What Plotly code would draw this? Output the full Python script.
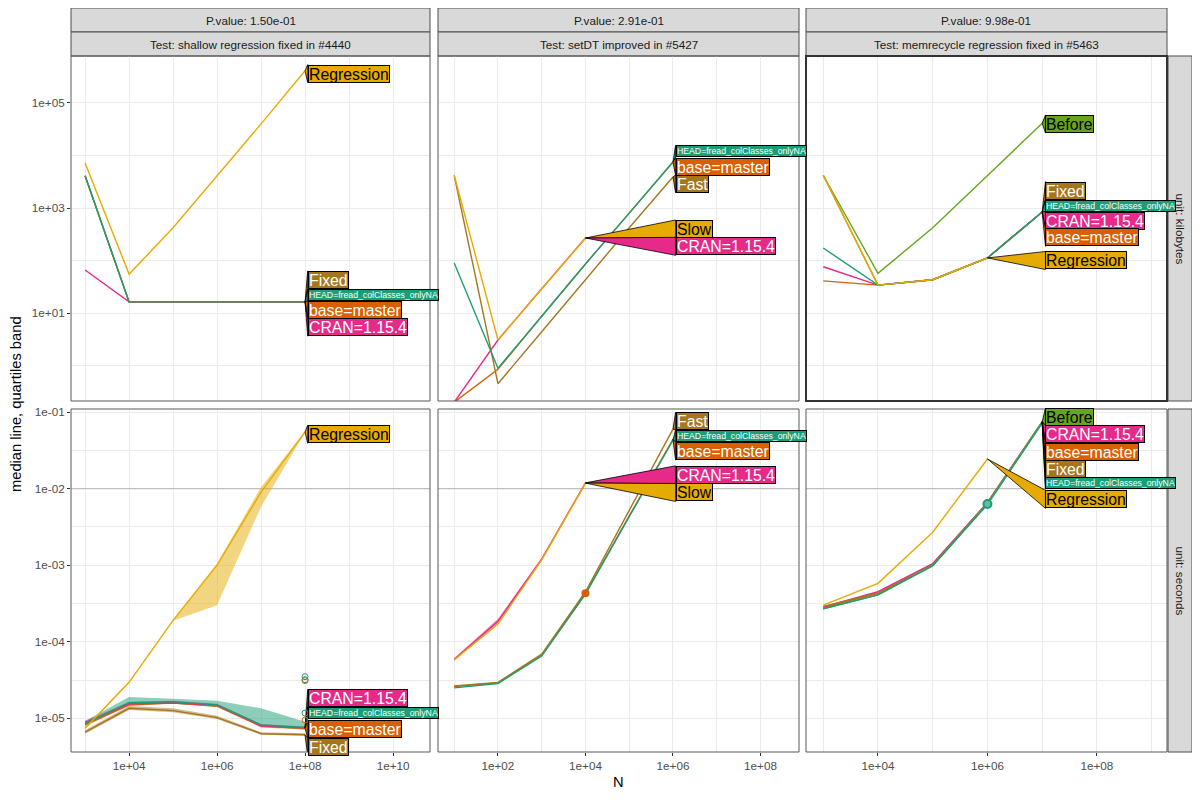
import math
import plotly.graph_objects as go

# ---------------- text ----------------
pvalue_labels = ["P.value: 1.50e-01", "P.value: 2.91e-01", "P.value: 9.98e-01"]
test_labels = ["Test: shallow regression fixed in #4440",
               "Test: setDT improved in #5427",
               "Test: memrecycle regression fixed in #5463"]
unit_labels = ["unit: kilobytes", "unit: seconds"]

HEAD = "HEAD=fread_colClasses_onlyNA"
BASE = "base=master"
CRAN = "CRAN=1.15.4"

# ---------------- column 1: shallow ----------------
shallow_N = [1e3, 1e4, 1e5, 1e6, 1e7, 1e8]
shallow_kb_Regression = [7200, 55, 420, 4000, 40000, 410000]
shallow_kb_Fixed = [4100, 16.3, 16.3, 16.3, 16.3, 16.3]
shallow_kb_base = [4100, 16.3, 16.3, 16.3, 16.3, 16.3]
shallow_kb_CRAN = [66, 16.3, 16.3, 16.3, 16.3, 16.3]
shallow_kb_HEAD = [4100, 16.3, 16.3, 16.3, 16.3, 16.3]

shallow_s_Regression = [7.4e-6, 2.95e-5, 1.9e-4, 1.0e-3, 9.0e-3, 0.055]
shallow_s_Regression_q25 = [7.2e-6, 2.9e-5, 1.88e-4, 3.0e-4, 5.8e-3, 0.054]
shallow_s_Regression_q75 = [7.6e-6, 3.0e-5, 1.92e-4, 1.05e-3, 1.05e-2, 0.056]
shallow_s_Fixed = [6.6e-6, 1.35e-5, 1.26e-5, 1.02e-5, 6.3e-6, 6.1e-6]
shallow_s_Fixed_q25 = [6.3e-6, 1.28e-5, 1.2e-5, 9.8e-6, 6.1e-6, 5.9e-6]
shallow_s_Fixed_q75 = [7.0e-6, 1.45e-5, 1.35e-5, 1.08e-5, 6.6e-6, 6.4e-6]
shallow_s_base = [8.3e-6, 1.5e-5, 1.6e-5, 1.45e-5, 7.9e-6, 7.4e-6]
shallow_s_base_q25 = [7.9e-6, 1.45e-5, 1.55e-5, 1.4e-5, 7.6e-6, 7.1e-6]
shallow_s_base_q75 = [8.7e-6, 1.6e-5, 1.65e-5, 1.5e-5, 8.3e-6, 7.7e-6]
shallow_s_CRAN = [8.8e-6, 1.55e-5, 1.6e-5, 1.5e-5, 8.0e-6, 7.5e-6]
shallow_s_CRAN_q25 = [8.4e-6, 1.5e-5, 1.55e-5, 1.45e-5, 7.7e-6, 7.3e-6]
shallow_s_CRAN_q75 = [9.3e-6, 1.65e-5, 1.7e-5, 1.55e-5, 8.4e-6, 7.8e-6]
shallow_s_HEAD = [8.5e-6, 1.6e-5, 1.65e-5, 1.5e-5, 8.2e-6, 7.6e-6]
shallow_s_HEAD_q25 = [8.0e-6, 1.5e-5, 1.55e-5, 1.4e-5, 7.8e-6, 7.2e-6]
shallow_s_HEAD_q75 = [9.2e-6, 1.9e-5, 1.8e-5, 1.7e-5, 1.35e-5, 9.0e-6]

shallow_outlier_N = [1e8, 1e8, 1e8, 1e8, 1e8]
shallow_outlier_s = [3.5e-5, 3.2e-5, 3.1e-5, 1.17e-5, 9.5e-6]
shallow_outlier_series = [HEAD, HEAD, "Fixed", HEAD, BASE]

# ---------------- column 2: setDT ----------------
setdt_N = [1e1, 1e2, 1e3, 1e4, 1e5, 1e6]
setdt_kb_Slow = [4200, 3.06, 29, 268]
setdt_kb_Fast = [4200, 0.45, 4.4, 43, 420, 3900]
setdt_kb_base = [0.2, 0.85, 8.7, 86, 800, 7500]
setdt_kb_CRAN = [0.2, 3.06, 29, 268]
setdt_kb_HEAD = [90, 0.89, 8.7, 86, 800, 7500]

setdt_s_Slow = [5.8e-5, 1.7e-4, 1.17e-3, 0.0118]
setdt_s_Fast = [2.65e-5, 2.95e-5, 6.9e-5, 4.5e-4, 5.2e-3, 0.060]
setdt_s_base = [2.6e-5, 2.9e-5, 6.7e-5, 4.3e-4, 4.4e-3, 0.044]
setdt_s_CRAN = [5.9e-5, 1.85e-4, 1.2e-3, 0.0119]
setdt_s_CRAN_q25 = [5.7e-5, 1.75e-4, 1.15e-3, 0.0117]
setdt_s_CRAN_q75 = [6.1e-5, 2.0e-4, 1.25e-3, 0.0121]
setdt_s_HEAD = [2.5e-5, 2.85e-5, 6.5e-5, 4.2e-4, 4.3e-3, 0.043]

setdt_point_N = [1e4]
setdt_point_s = [4.3e-4]

# ---------------- column 3: memrecycle ----------------
memrec_N = [1e3, 1e4, 1e5, 1e6, 1e7]
memrec_kb_Before = [4200, 57, 420, 4200, 41000]
memrec_kb_Fixed = [4200, 34, 43, 112, 840]
memrec_kb_base = [41, 34, 43, 112, 840]
memrec_kb_CRAN = [76, 34, 43, 112, 840]
memrec_kb_HEAD = [173, 34, 43, 112, 840]
memrec_kb_Regression = [4200, 34, 43, 112]

memrec_s_Before = [2.7e-4, 4.1e-4, 1.0e-3, 6.4e-3, 0.074]
memrec_s_Fixed = [2.9e-4, 4.3e-4, 1.0e-3, 6.4e-3, 0.074]
memrec_s_base = [2.8e-4, 4.3e-4, 1.0e-3, 6.5e-3, 0.074]
memrec_s_CRAN = [2.85e-4, 4.5e-4, 1.05e-3, 6.6e-3, 0.075]
memrec_s_HEAD = [2.7e-4, 4.1e-4, 0.98e-3, 6.2e-3, 0.072]
memrec_s_Regression = [3.0e-4, 5.8e-4, 2.7e-3, 0.0244]

memrec_point_N = [1e6]
memrec_point_s = [6.3e-3]

# ---------------- styles ----------------
colors = {HEAD: "#1B9E77", BASE: "#D95F02", CRAN: "#E7298A",
          "Regression": "#E6AB02", "Slow": "#E6AB02",
          "Fixed": "#A6761D", "Fast": "#A6761D", "Before": "#66A61E"}
text_colors = {"Regression": "black", "Slow": "black", "Before": "black"}

# panels: (row, col) -> list of (name, N, median, q25, q75)  (drawing order)
panels = {
    (0, 0): [(BASE, shallow_N, shallow_kb_base, None, None),
             (CRAN, shallow_N, shallow_kb_CRAN, None, None),
             ("Fixed", shallow_N, shallow_kb_Fixed, None, None),
             (HEAD, shallow_N, shallow_kb_HEAD, None, None),
             ("Regression", shallow_N, shallow_kb_Regression, None, None)],
    (0, 1): [(BASE, setdt_N, setdt_kb_base, None, None),
             (CRAN, setdt_N, setdt_kb_CRAN, None, None),
             ("Fast", setdt_N, setdt_kb_Fast, None, None),
             (HEAD, setdt_N, setdt_kb_HEAD, None, None),
             ("Slow", setdt_N, setdt_kb_Slow, None, None)],
    (0, 2): [(BASE, memrec_N, memrec_kb_base, None, None),
             (CRAN, memrec_N, memrec_kb_CRAN, None, None),
             ("Fixed", memrec_N, memrec_kb_Fixed, None, None),
             ("Before", memrec_N, memrec_kb_Before, None, None),
             (HEAD, memrec_N, memrec_kb_HEAD, None, None),
             ("Regression", memrec_N, memrec_kb_Regression, None, None)],
    (1, 0): [(BASE, shallow_N, shallow_s_base, shallow_s_base_q25, shallow_s_base_q75),
             (CRAN, shallow_N, shallow_s_CRAN, shallow_s_CRAN_q25, shallow_s_CRAN_q75),
             ("Fixed", shallow_N, shallow_s_Fixed, shallow_s_Fixed_q25, shallow_s_Fixed_q75),
             (HEAD, shallow_N, shallow_s_HEAD, shallow_s_HEAD_q25, shallow_s_HEAD_q75),
             ("Regression", shallow_N, shallow_s_Regression, shallow_s_Regression_q25, shallow_s_Regression_q75)],
    (1, 1): [(BASE, setdt_N, setdt_s_base, None, None),
             (CRAN, setdt_N, setdt_s_CRAN, setdt_s_CRAN_q25, setdt_s_CRAN_q75),
             ("Fast", setdt_N, setdt_s_Fast, None, None),
             (HEAD, setdt_N, setdt_s_HEAD, None, None),
             ("Slow", setdt_N, setdt_s_Slow, None, None)],
    (1, 2): [(BASE, memrec_N, memrec_s_base, None, None),
             (CRAN, memrec_N, memrec_s_CRAN, None, None),
             ("Fixed", memrec_N, memrec_s_Fixed, None, None),
             ("Before", memrec_N, memrec_s_Before, None, None),
             (HEAD, memrec_N, memrec_s_HEAD, None, None),
             ("Regression", memrec_N, memrec_s_Regression, None, None)],
}

# label box centres (log10 y) per panel -- layout, not data
label_y = {
    (0, 0): {"Regression": 5.56, "Fixed": 1.63, HEAD: 1.34, BASE: 1.06, CRAN: 0.73},
    (0, 1): {HEAD: 4.08, BASE: 3.79, "Fast": 3.46, "Slow": 2.60, CRAN: 2.27},
    (0, 2): {"Before": 4.60, "Fixed": 3.33, HEAD: 3.04, CRAN: 2.76, BASE: 2.44, "Regression": 2.00},
    (1, 0): {"Regression": -1.29, CRAN: -4.74, HEAD: -4.93, BASE: -5.14, "Fixed": -5.37},
    (1, 1): {"Fast": -1.12, HEAD: -1.31, BASE: -1.51, CRAN: -1.82, "Slow": -2.05},
    (1, 2): {"Before": -1.06, CRAN: -1.29, BASE: -1.52, "Fixed": -1.74, HEAD: -1.93, "Regression": -2.14},
}

# ---------------- layout geometry (screen pixels; page body has an 8px margin) ----------------
OFF = 8
W, H = 1184, 784
col_px = [(71, 430), (438, 799), (806, 1167)]
row_px = [(56, 401), (409, 752)]
x_ranges = [(2.68, 10.84), (0.63, 8.88), (2.685, 9.28)]
y_ranges = [(-0.676, 5.895), (-5.44, -0.96)]

x_tickvals = [[1e4, 1e6, 1e8, 1e10], [1e2, 1e4, 1e6, 1e8], [1e4, 1e6, 1e8]]
x_ticktext = [["1e+04", "1e+06", "1e+08", "1e+10"], ["1e+02", "1e+04", "1e+06", "1e+08"],
              ["1e+04", "1e+06", "1e+08"]]
x_minor = [[1e3, 1e5, 1e7, 1e9], [1e1, 1e3, 1e5, 1e7], [1e3, 1e5, 1e7, 1e9]]
y_tickvals = [[1e1, 1e3, 1e5], [1e-5, 1e-4, 1e-3, 1e-2, 1e-1]]
y_ticktext = [["1e+01", "1e+03", "1e+05"], ["1e-05", "1e-04", "1e-03", "1e-02", "1e-01"]]
y_minor = [[1e0, 1e2, 1e4], [3.162e-6, 3.162e-5, 3.162e-4, 3.162e-3, 3.162e-2]]

FONT = "Liberation Sans, Arial, sans-serif"
GRID = "#EBEBEB"


def px_x(s):
    return (s - OFF) / W


def px_y(s):
    return 1 - (s - OFF) / H


def xd(c):
    return [px_x(col_px[c][0]), px_x(col_px[c][1])]


def yd(r):
    return [px_y(row_px[r][1]), px_y(row_px[r][0])]


fig = go.Figure()
layout = dict(width=W, height=H, autosize=False,
              margin=dict(l=0, r=0, t=0, b=0, pad=0, autoexpand=False),
              paper_bgcolor="white", plot_bgcolor="white", showlegend=False,
              font=dict(family=FONT))
shapes, annotations = [], []

for r in range(2):
    for c in range(3):
        i = r * 3 + c
        sfx = "" if i == 0 else str(i + 1)
        xa, ya = "x" + sfx, "y" + sfx
        layout["xaxis" + sfx] = dict(
            type="log", range=list(x_ranges[c]), domain=xd(c), anchor=ya, automargin=False,
            tickvals=x_tickvals[c], ticktext=x_ticktext[c],
            showticklabels=(r == 1), ticks="outside" if r == 1 else "",
            ticklen=3, tickcolor="#333333", tickwidth=1,
            tickfont=dict(size=11.7, color="#4D4D4D", family=FONT),
            showgrid=True, gridcolor=GRID, gridwidth=1.1, zeroline=False, showline=False,
            minor=dict(tickvals=x_minor[c], showgrid=True, gridcolor=GRID, gridwidth=0.7, ticks=""))
        layout["yaxis" + sfx] = dict(
            type="log", range=list(y_ranges[r]), domain=yd(r), anchor=xa, automargin=False,
            tickvals=y_tickvals[r], ticktext=y_ticktext[r],
            showticklabels=(c == 0), ticks="outside" if c == 0 else "",
            ticklen=3, tickcolor="#333333", tickwidth=1,
            tickfont=dict(size=11.7, color="#4D4D4D", family=FONT),
            showgrid=True, gridcolor=GRID, gridwidth=1.1, zeroline=False, showline=False,
            minor=dict(tickvals=y_minor[r], showgrid=True, gridcolor=GRID, gridwidth=0.7, ticks=""))

        # reference line at 1e-2 for the seconds row
        if r == 1:
            fig.add_trace(go.Scatter(x=[1e-1, 1e12], y=[1e-2, 1e-2], mode="lines",
                                     line=dict(color="#BEBEBE", width=1.4),
                                     xaxis=xa, yaxis=ya, hoverinfo="skip"))

        series = panels[(r, c)]
        # quartile ribbons
        for name, N, med, q25, q75 in series:
            if q25 is None:
                continue
            n = len(q25)
            fig.add_trace(go.Scatter(x=list(N[:n]) + list(N[:n])[::-1], y=list(q75) + list(q25)[::-1],
                                     mode="lines", fill="toself", fillcolor=colors[name],
                                     opacity=0.5, line=dict(width=0),
                                     xaxis=xa, yaxis=ya, hoverinfo="skip"))
        # median lines
        for name, N, med, q25, q75 in series:
            fig.add_trace(go.Scatter(x=N[:len(med)], y=med, mode="lines",
                                     line=dict(color=colors[name], width=1.4),
                                     xaxis=xa, yaxis=ya, name=name))

        # direct labels with pointer wedges
        px_per_dec = (row_px[r][1] - row_px[r][0]) / (y_ranges[r][1] - y_ranges[r][0])
        nmax = max(max(s[1][:len(s[2])]) for s in series)
        x_left = 10 ** (math.log10(nmax) + 0.06)
        ends = {s[0]: (s[1][len(s[2]) - 1], s[2][-1]) for s in series}
        for name, yc in label_y[(r, c)].items():
            small = (name == HEAD)
            box_h = 10 if small else 16
            hh = (box_h + 2) / 2 / px_per_dec
            xe, ye = ends[name]
            fig.add_trace(go.Scatter(x=[xe, x_left, x_left, xe],
                                     y=[ye, 10 ** (yc + hh), 10 ** (yc - hh), ye],
                                     mode="lines", fill="toself", fillcolor=colors[name],
                                     line=dict(color="black", width=0.8),
                                     xaxis=xa, yaxis=ya, hoverinfo="skip"))
            annotations.append(dict(
                x=math.log10(x_left), y=yc, xref=xa, yref=ya, xanchor="left", yanchor="middle",
                text=name, showarrow=False, bgcolor=colors[name], bordercolor="black",
                borderwidth=1, borderpad=0, height=box_h, valign="middle",
                font=dict(family=FONT, size=8.7 if small else 15.8,
                          color=text_colors.get(name, "white"))))

        # panel border
        shapes.append(dict(type="rect", xref="paper", yref="paper",
                           x0=xd(c)[0], x1=xd(c)[1], y0=yd(r)[0], y1=yd(r)[1],
                           line=dict(color="#333333" if (r, c) == (0, 2) else "#595959",
                                     width=2 if (r, c) == (0, 2) else 1)))

# extra points
fig.add_trace(go.Scatter(x=shallow_outlier_N, y=shallow_outlier_s, mode="markers",
                         marker=dict(symbol="circle-open", size=6,
                                     color=[colors[s] for s in shallow_outlier_series], line=dict(width=1)),
                         xaxis="x4", yaxis="y4", hoverinfo="skip"))
fig.add_trace(go.Scatter(x=setdt_point_N, y=setdt_point_s, mode="markers",
                         marker=dict(size=8, color=colors[BASE]),
                         xaxis="x5", yaxis="y5", hoverinfo="skip"))
fig.add_trace(go.Scatter(x=memrec_point_N, y=memrec_point_s, mode="markers",
                         marker=dict(size=8, color="#5FBF9F", line=dict(color=colors[HEAD], width=2)),
                         xaxis="x6", yaxis="y6", hoverinfo="skip"))

# strips
STRIP = "#D9D9D9"
for c in range(3):
    x0, x1 = xd(c)
    for (ya0, ya1, txt) in [(px_y(32), px_y(8), pvalue_labels[c]),
                            (px_y(56), px_y(32), test_labels[c])]:
        shapes.append(dict(type="rect", xref="paper", yref="paper", x0=x0, x1=x1, y0=ya0, y1=ya1,
                           fillcolor=STRIP, line=dict(color="#4D4D4D", width=1), layer="below"))
        annotations.append(dict(x=(x0 + x1) / 2, y=(ya0 + ya1) / 2, xref="paper", yref="paper",
                                xanchor="center", yanchor="middle",
                                text=txt, showarrow=False,
                                font=dict(size=11.7, color="#1A1A1A", family=FONT)))
for r in range(2):
    y0, y1 = yd(r)
    shapes.append(dict(type="rect", xref="paper", yref="paper", x0=px_x(1168), x1=px_x(1192),
                       y0=y0, y1=y1,
                       fillcolor=STRIP, line=dict(color="#4D4D4D", width=1), layer="below"))
    annotations.append(dict(x=px_x(1180), y=(y0 + y1) / 2, xref="paper", yref="paper",
                            xanchor="center", yanchor="middle",
                            text=unit_labels[r], showarrow=False, textangle=90,
                            font=dict(size=11.7, color="#1A1A1A", family=FONT)))

# axis titles
annotations.append(dict(x=px_x(618), y=px_y(782), xref="paper", yref="paper", text="N",
                        xanchor="center", yanchor="middle",
                        showarrow=False, font=dict(size=14.7, color="black", family=FONT)))
annotations.append(dict(x=px_x(16), y=px_y(404), xref="paper", yref="paper",
                        xanchor="center", yanchor="middle",
                        text="median line, quartiles band", textangle=-90,
                        showarrow=False, font=dict(size=14.7, color="black", family=FONT)))

layout["shapes"] = shapes
layout["annotations"] = annotations
fig.update_layout(**layout)
fig.write_html("out.html")
